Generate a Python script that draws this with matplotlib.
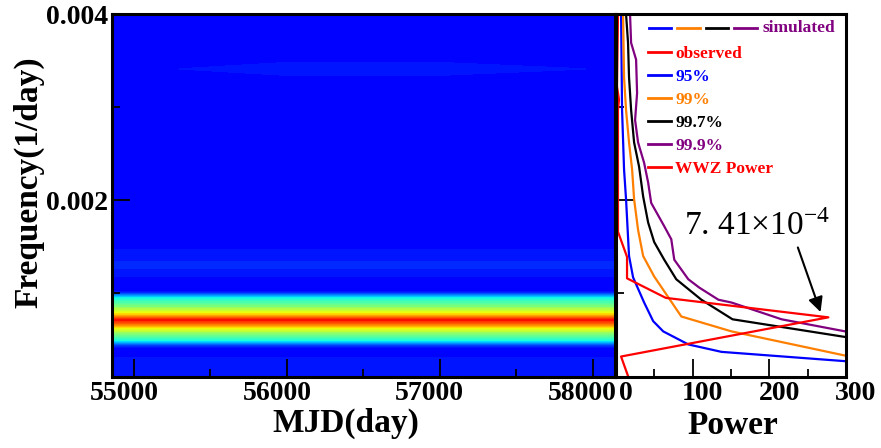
import matplotlib
matplotlib.use("Agg")
import matplotlib.pyplot as plt
import matplotlib.transforms as mtransforms
from matplotlib.colors import ListedColormap
from matplotlib.lines import Line2D
from matplotlib.ticker import MultipleLocator, FormatStrFormatter
import numpy as np

plt.rcParams["font.family"] = ["Liberation Serif", "DejaVu Serif"]
plt.rcParams["font.weight"] = "bold"
plt.rcParams["mathtext.fontset"] = "stix"

# --- WWZ map (left): power profile along frequency, flat in time ---
wwz_time = np.array([54856, 55300, 56000, 57000, 57950, 58146])
wwz_freq = np.array([0.00010, 0.00030, 0.00034, 0.00042, 0.00045, 0.00049,
                     0.00056, 0.00062, 0.00066, 0.000715, 0.00075, 0.00079,
                     0.00086, 0.00095, 0.00099, 0.00102, 0.00112, 0.00118,
                     0.00124, 0.00128, 0.00134, 0.00144, 0.00150, 0.00156,
                     0.00200, 0.00300, 0.00326, 0.00341, 0.00356, 0.00400])
wwz_power = np.array([10, 10, 2, 8, 41, 95,
                      138, 187, 232, 278, 232, 187,
                      138, 95, 41, 6, 3, 9,
                      14, 18, 16, 11, 7, 3,
                      2, 2, 2, 2, 2, 2])
# faint ridge near 0.0034 1/day, sampled at wwz_time
ridge_freq = 0.00341
ridge_power = np.array([2, 9, 15, 15, 9, 2])

# --- power spectra (right) ---
obs_freq = [0.00011, 0.00032, 0.000741, 0.00095, 0.00116, 0.00139, 0.00166,
            0.00201, 0.00297, 0.00308, 0.00322, 0.00400]
obs_power = [15.7, 6.6, 277, 65, 14.4, 14.4, 2.6, 2.6, 2.6, 3.9, 1.3, 2.6]

p95_freq = [0.00027, 0.00037, 0.00045, 0.00059, 0.00070, 0.00090, 0.00117,
            0.00140, 0.00201, 0.00233, 0.00297, 0.00400]
p95_power = [299, 137.6, 94.3, 61.6, 48.5, 36.7, 22.3, 17.0, 13.1, 10.5, 7.9, 6.6]

p99_freq = [0.00033, 0.00059, 0.00075, 0.00118, 0.00140, 0.00168, 0.00201,
            0.00233, 0.00262, 0.00297, 0.00332, 0.00400]
p99_power = [299, 150.7, 85.2, 49.8, 35.4, 28.8, 23.6, 21.0, 17.0, 13.1, 10.5, 9.2]

p997_freq = [0.00053, 0.00072, 0.00093, 0.00115, 0.00136, 0.00155, 0.00176,
             0.00204, 0.00236, 0.00262, 0.00297, 0.00332, 0.00369, 0.00400]
p997_power = [299, 152, 111.4, 78.6, 62.9, 49.8, 41.9, 35.4, 30.1, 23.6,
              19.7, 17.0, 15.7, 13.1]

p999_freq = [0.00059, 0.00072, 0.00090, 0.00093, 0.00106, 0.00115, 0.00136,
             0.00158, 0.00172, 0.00197, 0.00219, 0.00240, 0.00262, 0.00286,
             0.00315, 0.00351, 0.00369, 0.00400]
p999_power = [299, 216, 150.7, 133.6, 108.7, 94.3, 76.0, 72.1, 62.9, 45.9,
              41.9, 36.7, 28.8, 24.9, 27.5, 26.2, 19.7, 18.3]

BLUE, ORANGE, PURPLE, RED = "#0000ff", "#ff7f00", "#800080", "#ff0000"

fig = plt.figure(figsize=(8.81, 4.48), dpi=100)
ax = fig.add_axes([112 / 881, 71 / 448, 503 / 881, 363 / 448])
ax2 = fig.add_axes([616 / 881, 71 / 448, 230 / 881, 363 / 448])

# WWZ map
Z = np.tile(wwz_power[:, None], (1, len(wwz_time))).astype(float)
Z[np.argmin(np.abs(wwz_freq - ridge_freq)), :] = ridge_power
cmap = ListedColormap(plt.cm.jet(np.linspace(0.118, 0.90, 256)))
levels = np.linspace(wwz_power.min(), wwz_power.max(), 41)
ax.contourf(wwz_time, wwz_freq, Z, levels=levels, cmap=cmap)
ax.set_xlim(wwz_time[0], wwz_time[-1])
ax.set_ylim(0.0001, 0.004)

# spectra
lw = 1.6
ax2.plot(p95_power, p95_freq, color=BLUE, lw=lw)
ax2.plot(p99_power, p99_freq, color=ORANGE, lw=lw)
ax2.plot(p997_power, p997_freq, color="black", lw=lw)
ax2.plot(p999_power, p999_freq, color=PURPLE, lw=lw)
ax2.plot(obs_power, obs_freq, color=RED, lw=lw)
ax2.set_xlim(0, 300)
ax2.set_ylim(0.0001, 0.004)

# ticks / spines
for a in (ax, ax2):
    a.tick_params(which="major", direction="in", length=13, width=1.3,
                  labelsize=20, pad=3)
    a.tick_params(which="minor", direction="in", length=6, width=1.3)
    a.yaxis.set_major_locator(MultipleLocator(0.002))
    a.yaxis.set_minor_locator(MultipleLocator(0.001))
    for s in a.spines.values():
        s.set_linewidth(2.2)
ax.yaxis.set_major_formatter(FormatStrFormatter("%.3f"))
ax.xaxis.set_major_locator(MultipleLocator(1000))
ax.xaxis.set_minor_locator(MultipleLocator(500))
ax2.xaxis.set_major_locator(MultipleLocator(100))
ax2.xaxis.set_minor_locator(MultipleLocator(50))
ax2.tick_params(labelleft=False)

shift_l = mtransforms.ScaledTranslation(-0.10, 0, fig.dpi_scale_trans)
shift_r = mtransforms.ScaledTranslation(0.10, 0, fig.dpi_scale_trans)
for lab in ax.get_xticklabels():
    lab.set_transform(lab.get_transform() + shift_l)
for lab in ax2.get_xticklabels():
    lab.set_transform(lab.get_transform() + shift_r)

ax.set_xlabel("MJD(day)", fontsize=24, fontweight="bold")
ax.xaxis.set_label_coords(0.465, -0.085)
ax.set_ylabel("Frequency(1/day)", fontsize=24, fontweight="bold")
ax.yaxis.set_label_coords(-0.135, 0.537)
ax2.set_xlabel("Power", fontsize=24, fontweight="bold")
ax2.xaxis.set_label_coords(0.507, -0.09)

# legend: "simulated" row drawn by hand, the rest via legend
sim_segs = [(0.144, 0.240, BLUE), (0.266, 0.367, ORANGE),
            (0.393, 0.485, "black"), (0.515, 0.611, PURPLE)]
for x0, x1, c in sim_segs:
    ax2.plot([x0, x1], [0.9614, 0.9614], color=c, lw=2,
             transform=ax2.transAxes, clip_on=False)
ax2.text(0.638, 0.9614, "simulated", color=PURPLE, fontsize=12.5,
         fontweight="bold", va="center", transform=ax2.transAxes)

handles = [
    Line2D([], [], color=RED, lw=2, label="observed"),
    Line2D([], [], color=BLUE, lw=2, label="95%"),
    Line2D([], [], color=ORANGE, lw=2, label="99%"),
    Line2D([], [], color="black", lw=2, label="99.7%"),
    Line2D([], [], color=PURPLE, lw=2, label="99.9%"),
    Line2D([], [], color=RED, lw=2, label="WWZ Power"),
]
ax2.legend(handles=handles, loc="upper left", bbox_to_anchor=(0.14, 0.913),
           frameon=False, prop={"size": 12.5, "weight": "bold"},
           handlelength=1.32, handletextpad=0.25, labelspacing=0.40,
           borderpad=0, borderaxespad=0, labelcolor="linecolor")

# peak annotation
ax2.annotate("", xy=(268, 0.00077), xytext=(236, 0.00152),
             arrowprops=dict(arrowstyle="-|>", color="black", lw=1.5,
                             mutation_scale=22))
ax2.text(89, 0.00163, r"7. 41×10$^{\mathregular{-4}}$", fontsize=24,
         fontweight="normal", va="baseline")

fig.savefig("out.png", dpi=100)
